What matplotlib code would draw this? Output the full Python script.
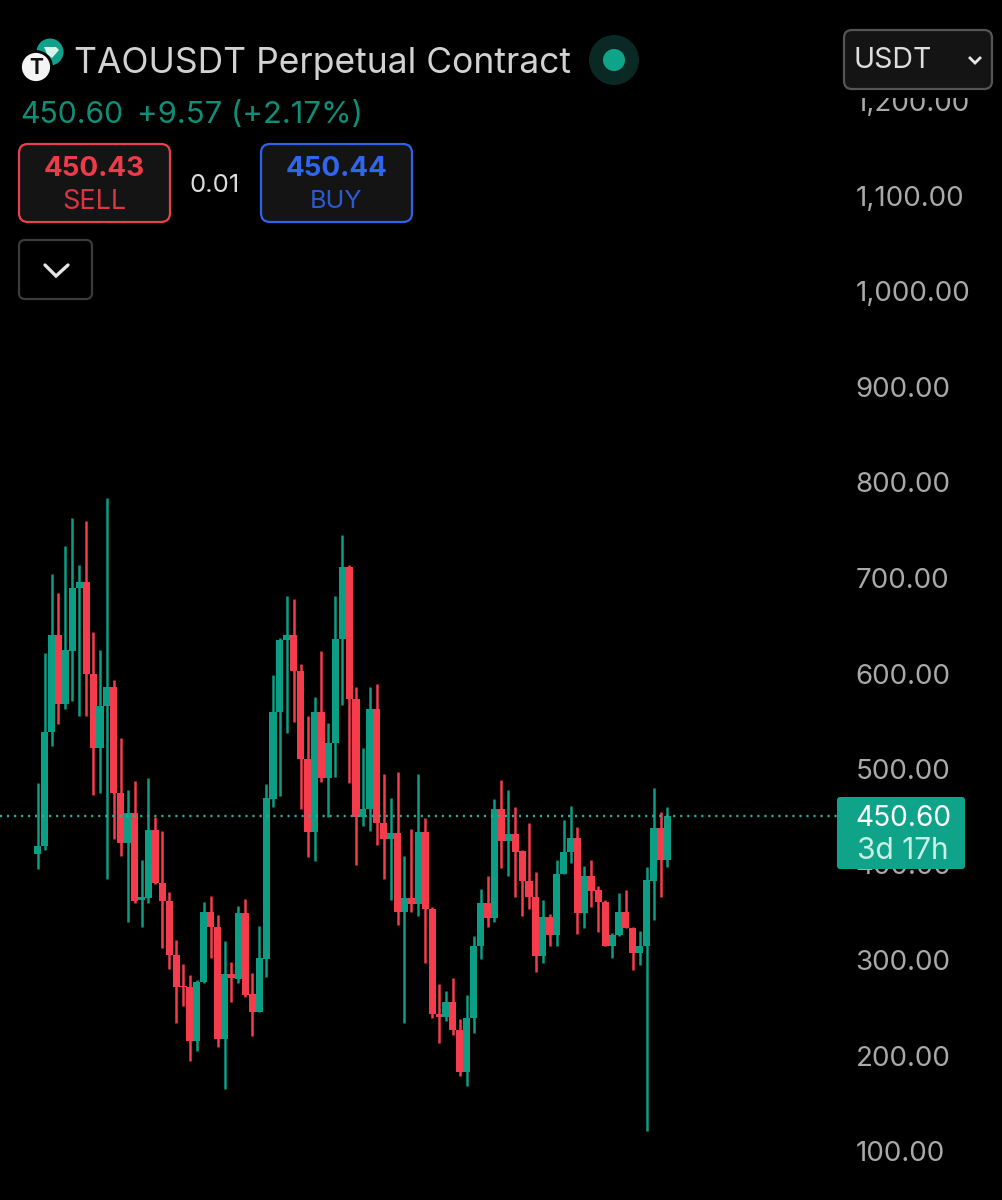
import matplotlib
matplotlib.use("Agg")
import matplotlib.pyplot as plt
from matplotlib.patches import FancyBboxPatch, Circle, Rectangle, Polygon

plt.rcParams['font.family'] = ['Inter', 'DejaVu Sans']

opens = [411,419,539,640,568,624,690,696,600,522,566,586,475,422,454,363,365,436,381,362,305,273,272,215,277,350,335,217,285,280,349,264,246,301,469,560,635,640,603,510,434,560,491,527,636,712,573,450,458,563,443,427,433,350,365,359,434,353,243,240,256,227,183,239,315,360,344,458,425,432,414,383,366,304,345,326,390,413,428,349,388,373,361,315,326,350,333,307,315,383,438,405]
highs = [485,621,704,684,734,763,714,760,643,625,784,593,532,478,487,405,491,450,435,371,321,296,284,279,361,367,347,320,298,357,364,286,336,484,598,637,681,678,610,555,575,624,548,681,745,714,586,522,586,589,495,470,497,409,437,495,449,355,275,268,281,238,263,325,374,388,469,489,478,460,415,443,392,363,348,405,447,461,439,398,405,377,363,328,370,373,335,330,397,480,455,460]
lows = [395,415,524,547,563,571,556,555,473,475,385,427,409,340,360,335,360,380,313,291,234,252,194,205,276,302,209,165,256,276,261,220,246,282,460,472,538,549,458,408,404,486,450,492,567,485,399,440,435,420,385,363,337,234,350,346,297,239,213,236,221,179,168,224,301,335,340,396,388,366,346,353,287,297,315,315,390,402,327,333,355,329,315,302,325,333,290,295,121,342,366,397]
closes = [419,539,640,568,625,690,696,600,522,566,586,475,422,454,362,366,436,381,362,305,272,272,215,277,350,335,217,285,281,349,263,246,302,470,560,635,640,603,510,434,560,491,527,636,712,573,450,458,563,443,427,433,350,365,359,434,353,243,240,256,227,183,239,315,360,344,458,425,432,413,383,366,304,345,326,390,413,428,349,388,372,361,315,326,350,333,307,315,384,438,405,450.6]
price_ticks = [100,200,300,400,500,600,700,800,900,1000,1100,1200]
last_price = 450.60

GREEN = '#0b9e84'
RED = '#f43c4c'
TAG = '#0fa489'

W, H = 1002, 1200
fig = plt.figure(figsize=(W/100, H/100), dpi=100, facecolor='black')
AX_R = 850
ax = fig.add_axes([0, 0, AX_R/W, 1], facecolor='black')
step = 6.92
x0 = 37.7
ax.set_xlim(-x0/step, (AX_R-x0)/step)
ax.set_ylim(100-49/0.955, 100+1151/0.955)

for i, (o, h, l, c) in enumerate(zip(opens, highs, lows, closes)):
    col = GREEN if c >= o else RED
    ax.vlines(i, l, h, color=col, lw=1.8, zorder=2)
    ax.bar(i, abs(c-o), bottom=min(o, c), width=1.02, color=col, lw=0, zorder=3)

ax.axhline(last_price, color='#2fae96', lw=1.7, ls=(0, (0.9, 2.07)), zorder=4)

ax.yaxis.tick_right()
ax.set_yticks(price_ticks)
ax.set_yticklabels([f'{v:,.2f}' for v in price_ticks], color='#a9a9a9', fontsize=20)
ax.tick_params(axis='y', length=0, pad=4)
ax.set_xticks([])
for s in ax.spines.values():
    s.set_visible(False)

# Interface chrome, on an overlay in pixel coordinates
ui = fig.add_axes([0, 0, 1, 1], zorder=5)
ui.set_xlim(0, W)
ui.set_ylim(H, 0)
ui.axis('off')
ui.patch.set_alpha(0)


def box(x1, y1, x2, y2, fc, ec, lw=1.6, r=9):
    ui.add_patch(FancyBboxPatch((x1+r, y1+r), x2-x1-2*r, y2-y1-2*r,
                                boxstyle=f'round,pad={r},rounding_size={r}',
                                fc=fc, ec=ec, lw=lw))


# logo
ui.add_patch(Circle((50, 52), 13.5, fc='#11a08a', ec='none'))
ui.add_patch(Polygon([(44, 47), (56, 47), (59, 50), (52, 58), (47, 54)], fc='#d8f3ec', ec='none'))
ui.add_patch(Circle((36, 67), 15.5, fc='#f4f4f4', ec='black', lw=2))
ui.text(36, 68, 'T', color='#111111', fontsize=15, fontweight='bold', ha='center', va='center')

ui.text(74, 63, 'TAOUSDT Perpetual Contract', color='#d2d2d2', fontsize=25.5, ha='left', va='center')
ui.add_patch(Circle((614, 60), 25, fc='#0a2824', ec='none'))
ui.add_patch(Circle((614, 60), 11, fc='#0fa489', ec='none'))

ui.text(20, 115, '450.60', color='#0f8f78', fontsize=21.7, ha='left', va='center')
ui.text(137, 115, '+9.57 (+2.17%)', color='#0f8f78', fontsize=22.4, ha='left', va='center')

box(19, 144, 170, 222, '#141414', '#e8404c')
ui.text(94.5, 169, '450.43', color='#ee3b4a', fontsize=20, fontweight='bold', ha='center', va='center')
ui.text(94.5, 202, 'SELL', color='#d93643', fontsize=19.5, ha='center', va='center')
ui.text(215, 185, '0.01', color='#dcdcdc', fontsize=18.5, ha='center', va='center')
box(261, 144, 412, 222, '#141414', '#2f62e6')
ui.text(336.5, 169, '450.44', color='#3066ee', fontsize=20, fontweight='bold', ha='center', va='center')
ui.text(336.5, 202, 'BUY', color='#2c5ad4', fontsize=18.2, ha='center', va='center')

box(19, 240, 92, 299, 'black', '#3b3b3b', r=6)
ui.plot([45, 56, 68], [265, 276, 265], color='#e6e6e6', lw=2.4, solid_capstyle='round', solid_joinstyle='miter')

# hides the top of the 1,200.00 label, as in the app
ui.add_patch(Rectangle((835, 0), W-835, 98, fc='black', ec='none'))
box(844, 30, 992, 89, '#141414', '#555555', r=8)
ui.text(854, 61, 'USDT', color='#dddddd', fontsize=20.5, ha='left', va='center')
ui.plot([970, 975, 980], [58, 63, 58], color='#e6e6e6', lw=2.0, solid_joinstyle='miter')

# last price tag
ui.add_patch(FancyBboxPatch((837, 797), 128, 72, boxstyle='round,pad=0,rounding_size=3', fc=TAG, ec='none'))
ui.text(903, 818, '450.60', color='white', fontsize=20.3, ha='center', va='center')
ui.text(903, 851, '3d 17h', color='#c9efe6', fontsize=21.5, ha='center', va='center')

fig.savefig('out.png', dpi=100, facecolor='black')
